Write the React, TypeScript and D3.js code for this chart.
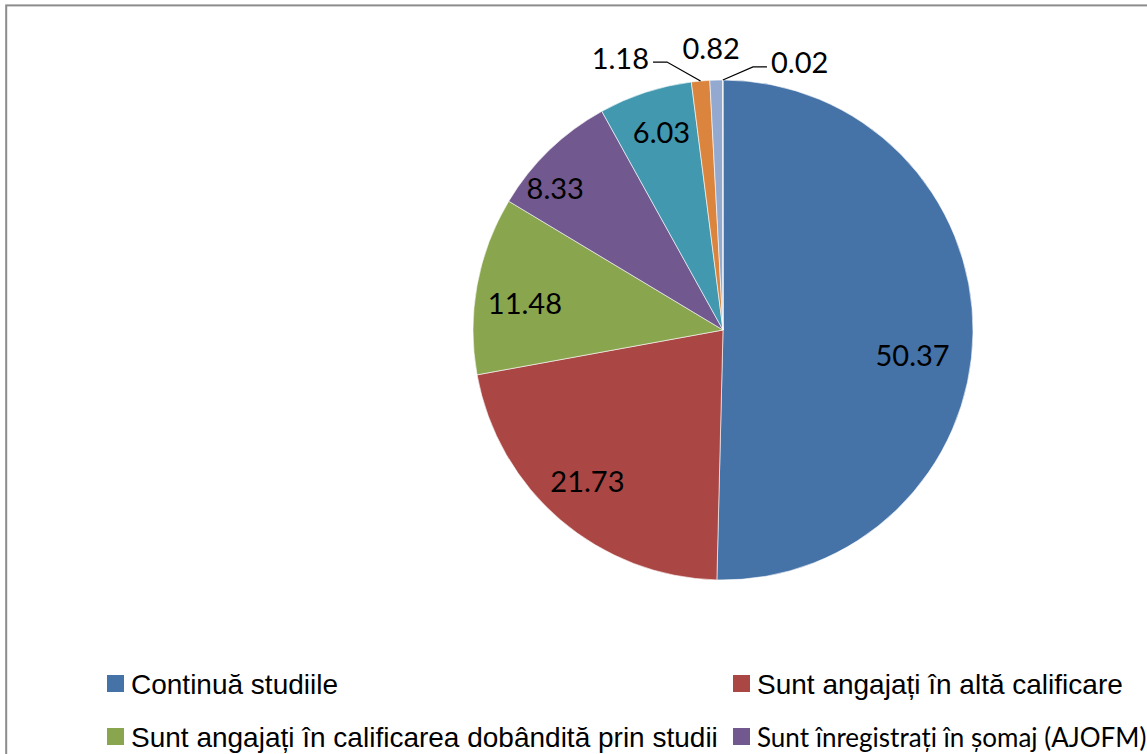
import React from 'react';
import * as d3 from 'd3';

// ---- data ----
const categories = ['c1', 'c2', 'c3', 'c4', 'c5', 'c6', 'c7', 'c8'];
const values = [50.37, 21.73, 11.48, 8.33, 6.03, 1.18, 0.82, 0.02];
const valueLabels = ['50.37', '21.73', '11.48', '8.33', '6.03', '1.18', '0.82', '0.02'];
const legendNames = [
  'Continuă studiile',
  'Sunt angajați în altă calificare',
  'Sunt angajați în calificarea dobândită prin studii',
  'Sunt înregistrați în șomaj (AJOFM)',
];

// ---- style / layout ----
const colors = ['#4572A7', '#AA4643', '#89A54E', '#71588F', '#4198AF', '#DB843D', '#93A9CF', '#B9CD96'];
const W = 1147;
const H = 754;
const cx = 723;
const cy = 330;
const R = 250;
const labelFont = 'Lato, "Open Sans", sans-serif';
const arialFont = '"Liberation Sans", Arial, sans-serif';
const labelSize = 29;

type Place =
  | { kind: 'in'; da: number; rf: number }
  | { kind: 'lead'; ang: number; rf: number; side: number }
  | { kind: 'free'; ang: number; rf: number };
const placements: Place[] = [
  { kind: 'in', da: 6.8, rf: 0.765 },
  { kind: 'in', da: 1.5, rf: 0.81 },
  { kind: 'in', da: -2.4, rf: 0.8 },
  { kind: 'in', da: -5.7, rf: 0.88 },
  { kind: 'in', da: 0.9, rf: 0.83 },
  { kind: 'lead', ang: 348.2, rf: 1.095, side: -1 },
  { kind: 'free', ang: 357.6, rf: 1.13 },
  { kind: 'lead', ang: 6.5, rf: 1.059, side: 1 },
];

const legendLayout = [
  { x: 107, y: 683.5, font: arialFont, size: 28 },
  { x: 733, y: 683.5, font: arialFont, size: 28 },
  { x: 107, y: 736.5, font: arialFont, size: 28 },
  { x: 733, y: 736.5, font: labelFont, size: 26 },
];

const rad = (deg: number) => (deg * Math.PI) / 180;
const polar = (angRad: number, r: number): [number, number] => [
  cx + r * Math.sin(angRad),
  cy - r * Math.cos(angRad),
];

export default function App() {
  const pie = d3
    .pie<number>()
    .sort(null)
    .value((d) => d)
    .startAngle(0)
    .endAngle(2 * Math.PI);
  const arcs = pie(values);
  const arc = d3.arc<d3.PieArcDatum<number>>().innerRadius(0).outerRadius(R);

  return (
    <svg
      width={W}
      height={H}
      style={{ position: 'absolute', left: 0, top: 0, background: '#fff' }}
    >
      <rect x={0} y={0} width={W} height={H} fill="#fff" />
      <rect x={6.2} y={5.4} width={W + 20} height={H + 40} fill="none" stroke="#8c8c8c" strokeWidth={2} />
      <g transform={`translate(${cx},${cy})`}>
        {arcs.map((a, i) => (
          <path key={categories[i]} d={arc(a) || ''} fill={colors[i]} stroke="#ffffff" strokeWidth={0.6} />
        ))}
      </g>
      {arcs.map((a, i) => {
        const p = placements[i];
        const mid = (a.startAngle + a.endAngle) / 2;
        if (p.kind === 'in') {
          const [x, y] = polar(mid + rad(p.da), R * p.rf);
          return (
            <text key={i} x={x} y={y} textAnchor="middle" dominantBaseline="central"
              fontFamily={labelFont} fontSize={labelSize} fill="#000">
              {valueLabels[i]}
            </text>
          );
        }
        if (p.kind === 'free') {
          const [x, y] = polar(rad(p.ang), R * p.rf);
          return (
            <text key={i} x={x} y={y} textAnchor="middle" dominantBaseline="central"
              fontFamily={labelFont} fontSize={labelSize} fill="#000">
              {valueLabels[i]}
            </text>
          );
        }
        const [ox, oy] = polar(mid, R);
        const [ex, ey] = polar(rad(p.ang), R * p.rf);
        const hx = ex + p.side * 14;
        return (
          <g key={i}>
            <path d={`M${ox},${oy}L${ex},${ey}L${hx},${ey}`} fill="none" stroke="#000" strokeWidth={1.3} />
            <text x={hx + p.side * 4} y={ey - 5} textAnchor={p.side < 0 ? 'end' : 'start'}
              dominantBaseline="central" fontFamily={labelFont} fontSize={labelSize} fill="#000">
              {valueLabels[i]}
            </text>
          </g>
        );
      })}
      {legendNames.map((name, i) => {
        const l = legendLayout[i];
        return (
          <g key={name}>
            <rect x={l.x} y={l.y - 8.5} width={17} height={17} fill={colors[i]} />
            <text x={l.x + 24} y={l.y + 10} fontFamily={l.font} fontSize={l.size} fill="#000">
              {name}
            </text>
          </g>
        );
      })}
    </svg>
  );
}
